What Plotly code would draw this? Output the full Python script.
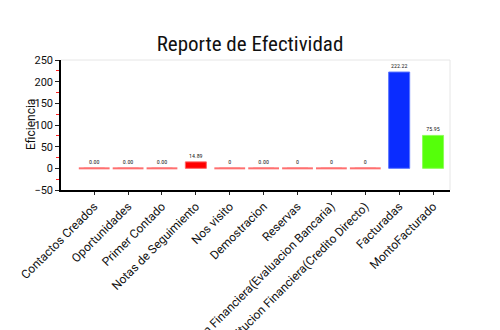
import plotly.graph_objects as go

categories = [
    "Contactos Creados", "Oportunidades", "Primer Contado", "Notas de Seguimiento",
    "Nos visito", "Demostracion", "Reservas",
    "Institucion Financiera(Evaluacion Bancaria)",
    "Institucion Financiera(Credito Directo)", "Facturadas", "MontoFacturado",
]
values = [0, 0, 0, 14.89, 0, 0, 0, 0, 0, 222.22, 75.95]
value_labels = ["0.00", "0.00", "0.00", "14.89", "0", "0.00", "0", "0", "0", "222.22", "75.95"]
bar_colors = ["#ff0000"] * 9 + ["#0a2cff", "#55ff0a"]
edge_colors = ["#ff6666"] * 9 + ["#5a74ff", "#8cff5a"]
y_ticks = [-50, 0, 50, 100, 150, 200, 250]

NARROW = "Liberation Sans Narrow, Roboto Condensed, Arial Narrow, sans-serif"
LABEL = "Roboto, sans-serif"

fig = go.Figure()

fig.add_trace(go.Bar(
    x=categories,
    y=values,
    width=0.62,
    marker=dict(color=bar_colors, line=dict(color=edge_colors, width=1)),
    text=value_labels,
    textposition="outside",
    textfont=dict(size=6, color="#222", family=NARROW),
    cliponaxis=False,
    showlegend=False,
))

# zero-valued bars are drawn as a thin flat mark at their value
zero_x = [c for c, v in zip(categories, values) if v == 0]
zero_y = [v for v in values if v == 0]
fig.add_trace(go.Scatter(
    x=zero_x, y=zero_y, mode="markers",
    marker=dict(symbol="line-ew", size=22, line=dict(color="#ff7070", width=2)),
    hoverinfo="skip", showlegend=False,
))

fig.update_layout(
    width=500, height=330,
    margin=dict(l=61, r=50, t=60, b=140, autoexpand=False),
    paper_bgcolor="white", plot_bgcolor="white",
    font=dict(family=NARROW, color="#111"),
    title=dict(text="Reporte de Efectividad", x=0.5, xanchor="center",
               y=1 - 44 / 330, yanchor="middle",
               font=dict(size=21, family=NARROW, color="#111")),
    bargap=0.38,
)

fig.update_xaxes(
    type="category",
    tickangle=-45,
    tickfont=dict(size=12, family=LABEL, color="#111"),
    ticks="outside", ticklen=3, tickcolor="#222",
    showline=True, linecolor="#000", linewidth=1.5,
    mirror=False, showgrid=False, automargin=False,
)
fig.update_yaxes(
    range=[-50, 250],
    tickvals=y_ticks,
    tickfont=dict(size=11, family=LABEL, color="#111"),
    ticks="outside", ticklen=4, tickcolor="#222",
    minor=dict(tickvals=[-25, 25, 75, 125, 175, 225], ticks="outside",
               ticklen=3, tickcolor="#ff2020"),
    showline=True, linecolor="#000", linewidth=1.5,
    showgrid=False, zeroline=False, automargin=False,
)

# y-axis title placed just left of the tick labels
fig.add_annotation(text="Eficiencia", xref="paper", yref="paper",
                   x=-30 / 389, y=0.5, xanchor="center", yanchor="middle",
                   textangle=-90, showarrow=False,
                   font=dict(size=12, family=LABEL, color="#111"))

# light frame along the top and right of the plot area
fig.add_shape(type="line", xref="paper", yref="paper", x0=0, x1=1, y0=1, y1=1,
              line=dict(color="#e6e6e6", width=1))
fig.add_shape(type="line", xref="paper", yref="paper", x0=1, x1=1, y0=0, y1=1,
              line=dict(color="#e6e6e6", width=1))

fig.write_html("out.html")
